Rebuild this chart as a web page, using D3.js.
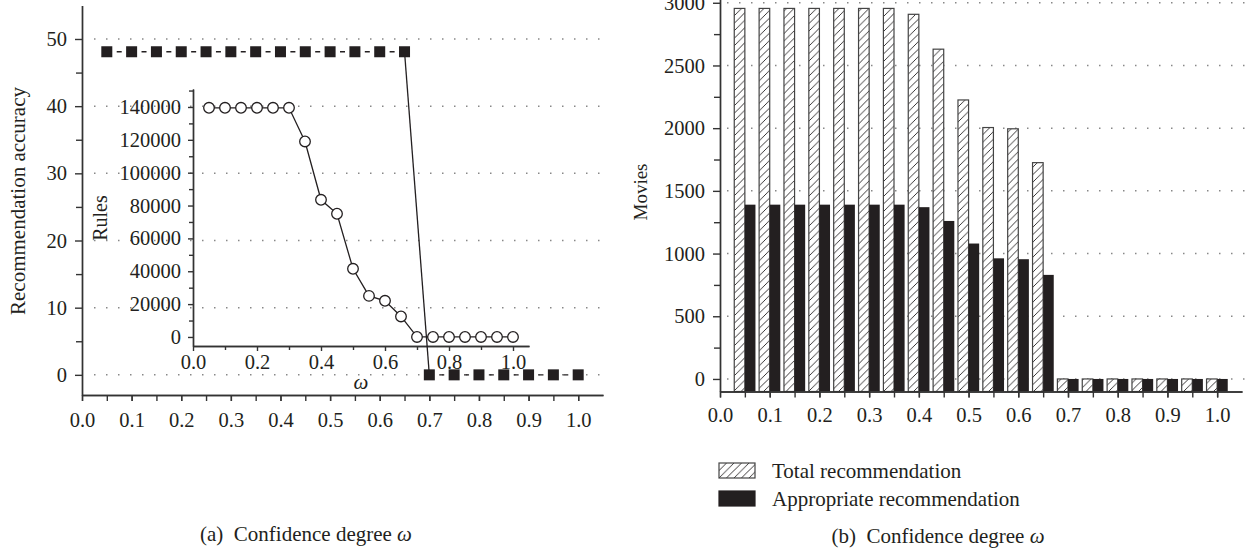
<!DOCTYPE html>
<html>
<head>
<meta charset="utf-8">
<script src="https://cdn.jsdelivr.net/npm/d3@7"></script>
<style>
  body { margin: 0; background: #fff; }
  svg text { font-family: "Liberation Serif", "DejaVu Serif", serif; fill: #231f20; }
  .axis path, .axis line { stroke: #333; stroke-width: 1.4; }
</style>
</head>
<body>
<div id="vis"></div>
<script>
// confidence degree values (shared by both panels)
const omega = [0.05, 0.1, 0.15, 0.2, 0.25, 0.3, 0.35, 0.4, 0.45, 0.5,
               0.55, 0.6, 0.65, 0.7, 0.75, 0.8, 0.85, 0.9, 0.95, 1.0]

// (a) recommendation accuracy
const accuracy = [48.1, 48.1, 48.1, 48.1, 48.1, 48.1, 48.1, 48.1, 48.1, 48.1,
                  48.1, 48.1, 48.1, 0, 0, 0, 0, 0, 0, 0]
// (a) inset: number of rules
const rules = [139500, 139500, 139500, 139500, 139500, 139500, 119000, 83500, 75000, 41500,
               25000, 22000, 12500, 0, 0, 0, 0, 0, 0, 0]

// (b) movies
const totalRec = [2955, 2955, 2955, 2955, 2955, 2955, 2955, 2908, 2630, 2225,
                  2005, 1995, 1725, 0, 0, 0, 0, 0, 0, 0]
const appropriateRec = [1390, 1390, 1390, 1390, 1390, 1390, 1390, 1370, 1260, 1080,
                        962, 955, 830, 0, 0, 0, 0, 0, 0, 0]

// tick labels
const xTicks = [0, 0.1, 0.2, 0.3, 0.4, 0.5, 0.6, 0.7, 0.8, 0.9, 1.0]
const xMinor = d3.range(0, 21).map(i => i * 0.05)
const accTicks = [0, 10, 20, 30, 40, 50]
const accMinor = [5, 15, 25, 35, 45]
const insetXTicks = [0, 0.2, 0.4, 0.6, 0.8, 1.0]
const insetXMinor = [0.1, 0.3, 0.5, 0.7, 0.9]
const rulesTicks = [0, 20000, 40000, 60000, 80000, 100000, 120000, 140000]
const rulesMinor = [10000, 30000, 50000, 70000, 90000, 110000, 130000, 150000]
const movieTicks = [0, 500, 1000, 1500, 2000, 2500, 3000]
const movieMinor = [250, 750, 1250, 1750, 2250, 2750]

const W = 1245, H = 554
const fs = 20.5
const dark = '#231f20'

const svg = d3.select('#vis').append('svg')
  .attr('width', W).attr('height', H)

const defs = svg.append('defs')
const hatch = defs.append('pattern')
  .attr('id', 'hatch')
  .attr('patternUnits', 'userSpaceOnUse')
  .attr('width', 7.5).attr('height', 7.5)
hatch.append('rect').attr('width', 7.5).attr('height', 7.5).attr('fill', '#fff')
hatch.append('path')
  .attr('d', 'M-1,8.5 L8.5,-1 M-1,1 L1,-1 M6.5,8.5 L8.5,6.5')
  .attr('stroke', dark).attr('stroke-width', 0.9)

function dotted(g, x1, x2, y) {
  g.append('line')
    .attr('x1', x1).attr('x2', x2).attr('y1', y).attr('y2', y)
    .attr('stroke', '#888').attr('stroke-width', 1.5)
    .attr('stroke-dasharray', '1.5,10.5')
}

function styleAxis(g) {
  g.attr('class', 'axis')
  g.selectAll('text').style('font-size', fs + 'px').attr('fill', dark)
}

// ---------------- (a) ----------------
const xA = d3.scaleLinear().domain([0, 1.05]).range([82, 603])
const yA = d3.scaleLinear().domain([-3, 55]).range([395, 5.4])

const gridA = svg.append('g')
accTicks.forEach(v => dotted(gridA, 94, 601, yA(v)))

svg.append('g').attr('transform', `translate(0,${yA(-3)})`)
  .call(d3.axisBottom(xA).tickValues(xMinor).tickFormat('').tickSize(6).tickSizeOuter(0))
  .call(styleAxis)
svg.append('g').attr('transform', `translate(0,${yA(-3)})`)
  .call(d3.axisBottom(xA).tickValues(xTicks).tickFormat(d3.format('.1f')).tickSize(6).tickPadding(11).tickSizeOuter(0))
  .call(styleAxis)
svg.append('g').attr('transform', `translate(${xA(0)},0)`)
  .call(d3.axisLeft(yA).tickValues(accMinor).tickFormat('').tickSize(6).tickSizeOuter(0))
  .call(styleAxis)
svg.append('g').attr('transform', `translate(${xA(0)},0)`)
  .call(d3.axisLeft(yA).tickValues(accTicks).tickSize(7).tickPadding(8).tickSizeOuter(0))
  .call(styleAxis)

svg.append('text')
  .attr('transform', `translate(25,201) rotate(-90)`)
  .attr('text-anchor', 'middle')
  .style('font-size', '21px')
  .text('Recommendation accuracy')

// inset
const xI = d3.scaleLinear().domain([0, 1.05]).range([193, 529])
const yI = d3.scaleLinear().domain([-5500, 151000]).range([346, 88.9])

svg.append('g').attr('transform', `translate(0,${yI(-5500)})`)
  .call(d3.axisBottom(xI).tickValues(insetXMinor).tickFormat('').tickSize(4).tickSizeOuter(0))
  .call(styleAxis)
svg.append('g').attr('transform', `translate(0,${yI(-5500)})`)
  .call(d3.axisBottom(xI).tickValues(insetXTicks).tickFormat(d3.format('.1f')).tickSize(5).tickPadding(3).tickSizeOuter(0))
  .call(styleAxis)
svg.append('g').attr('transform', `translate(${xI(0)},0)`)
  .call(d3.axisLeft(yI).tickValues(rulesMinor).tickFormat('').tickSize(4).tickSizeOuter(0))
  .call(styleAxis)
svg.append('g').attr('transform', `translate(${xI(0)},0)`)
  .call(d3.axisLeft(yI).tickValues(rulesTicks).tickFormat(d3.format('d')).tickSize(5).tickPadding(7).tickSizeOuter(0))
  .call(styleAxis)

svg.append('text')
  .attr('transform', `translate(107,218) rotate(-90)`)
  .attr('text-anchor', 'middle')
  .style('font-size', '20px')
  .text('Rules')
svg.append('text')
  .attr('x', 361).attr('y', 389)
  .attr('text-anchor', 'middle')
  .style('font-size', '21px').style('font-style', 'italic')
  .text('ω')

const rulePts = omega.map((w, i) => [w, rules[i]])
svg.append('path')
  .datum(rulePts)
  .attr('d', d3.line().x(d => xI(d[0])).y(d => yI(d[1])))
  .attr('fill', 'none').attr('stroke', dark).attr('stroke-width', 1.3)
svg.append('g').selectAll('circle')
  .data(rulePts).enter().append('circle')
  .attr('cx', d => xI(d[0])).attr('cy', d => yI(d[1]))
  .attr('r', 5.3)
  .attr('fill', '#fff').attr('stroke', dark).attr('stroke-width', 1.3)

// accuracy line: dashed between equal values, solid on the drop
const accPts = omega.map((w, i) => [w, accuracy[i]])
const segs = d3.pairs(accPts)
svg.append('g').selectAll('line')
  .data(segs).enter().append('line')
  .attr('x1', d => xA(d[0][0])).attr('y1', d => yA(d[0][1]))
  .attr('x2', d => xA(d[1][0])).attr('y2', d => yA(d[1][1]))
  .attr('stroke', dark).attr('stroke-width', 1.3)
  .attr('stroke-dasharray', d => {
    if (d[0][1] !== d[1][1]) return null
    const L = xA(d[1][0]) - xA(d[0][0])
    return `0,${(L - 5) / 2},5,${L}`
  })
const sq = 11
svg.append('g').selectAll('rect')
  .data(accPts).enter().append('rect')
  .attr('x', d => xA(d[0]) - sq / 2).attr('y', d => yA(d[1]) - sq / 2)
  .attr('width', sq).attr('height', sq)
  .attr('fill', dark)

svg.append('text')
  .attr('x', 306).attr('y', 541)
  .attr('text-anchor', 'middle')
  .style('font-size', '21px')
  .text('(a)\u00a0\u00a0Confidence degree ')
  .append('tspan').style('font-style', 'italic').text('ω')

// ---------------- (b) ----------------
const xB = d3.scaleLinear().domain([0, 1.05]).range([720, 1242])
const yB = d3.scaleLinear().domain([-100, 3050]).range([391.5, -3.5])

const gridB = svg.append('g')
movieTicks.forEach(v => dotted(gridB, 727, 1245, yB(v)))

const bw = 10.6
const bars = svg.append('g')
bars.selectAll('.total')
  .data(omega.map((w, i) => [w, totalRec[i]])).enter().append('rect')
  .attr('class', 'total')
  .attr('x', d => xB(d[0]) - bw).attr('y', d => yB(d[1]))
  .attr('width', bw).attr('height', d => yB(-100) - yB(d[1]))
  .attr('fill', 'url(#hatch)').attr('stroke', '#444').attr('stroke-width', 1.2)
bars.selectAll('.appr')
  .data(omega.map((w, i) => [w, appropriateRec[i]])).enter().append('rect')
  .attr('class', 'appr')
  .attr('x', d => xB(d[0])).attr('y', d => yB(d[1]))
  .attr('width', bw).attr('height', d => yB(-100) - yB(d[1]))
  .attr('fill', dark)

svg.append('g').attr('transform', `translate(0,${yB(-100)})`)
  .call(d3.axisBottom(xB).tickValues(xMinor).tickFormat('').tickSize(6).tickSizeOuter(0))
  .call(styleAxis)
svg.append('g').attr('transform', `translate(0,${yB(-100)})`)
  .call(d3.axisBottom(xB).tickValues(xTicks).tickFormat(d3.format('.1f')).tickSize(6).tickPadding(10).tickSizeOuter(0))
  .call(styleAxis)
svg.append('g').attr('transform', `translate(${xB(0)},0)`)
  .call(d3.axisLeft(yB).tickValues(movieMinor).tickFormat('').tickSize(6).tickSizeOuter(0))
  .call(styleAxis)
svg.append('g').attr('transform', `translate(${xB(0)},0)`)
  .call(d3.axisLeft(yB).tickValues(movieTicks).tickFormat(d3.format('d')).tickSize(7).tickPadding(8).tickSizeOuter(0))
  .call(styleAxis)

svg.append('text')
  .attr('transform', `translate(647,192) rotate(-90)`)
  .attr('text-anchor', 'middle')
  .style('font-size', '19px')
  .text('Movies')

// legend
const legendItems = [
  { label: 'Total recommendation', fill: 'url(#hatch)', stroke: '#444' },
  { label: 'Appropriate recommendation', fill: dark, stroke: dark }
]
const legend = svg.append('g').attr('transform', 'translate(719,463)')
legend.selectAll('rect')
  .data(legendItems).enter().append('rect')
  .attr('x', 0).attr('y', (d, i) => i * 28)
  .attr('width', 36).attr('height', 15)
  .attr('fill', d => d.fill).attr('stroke', d => d.stroke).attr('stroke-width', 1.2)
legend.selectAll('text')
  .data(legendItems).enter().append('text')
  .attr('x', 53).attr('y', (d, i) => i * 28 + 15)
  .style('font-size', '21px')
  .text(d => d.label)

svg.append('text')
  .attr('x', 938).attr('y', 543)
  .attr('text-anchor', 'middle')
  .style('font-size', '21px')
  .text('(b)\u00a0\u00a0Confidence degree ')
  .append('tspan').style('font-style', 'italic').text('ω')
</script>
</body>
</html>
